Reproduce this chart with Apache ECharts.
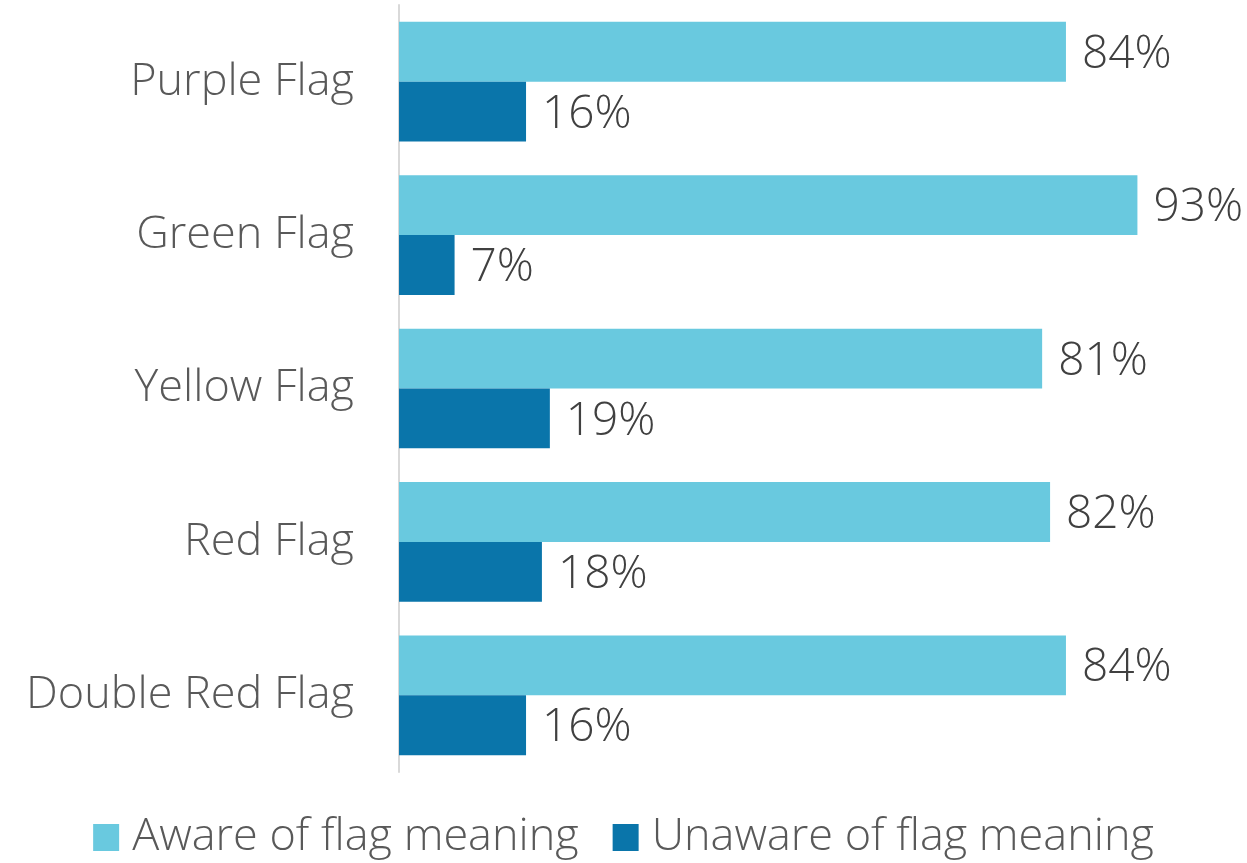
<!DOCTYPE html>
<html><head><meta charset="utf-8">
<script src="https://cdn.jsdelivr.net/npm/echarts@6/dist/echarts.min.js"></script>
<style>html,body{margin:0;padding:0;background:#fff}#c{width:1247px;height:863px}</style>
</head><body><div id="c"></div>
<script>
const categories = ["Purple Flag", "Green Flag", "Yellow Flag", "Red Flag", "Double Red Flag"];
const awareValues = [84, 93, 81, 82, 84];
const unawareValues = [16, 7, 19, 18, 16];
const seriesNames = ["Aware of flag meaning", "Unaware of flag meaning"];

const FONT = "'Open Sans'";
const chart = echarts.init(document.getElementById('c'));
const lbl = {show: true, position: 'right', distance: 16, offset: [0, 3], formatter: '{c}%', color: '#404040', fontSize: 46, fontWeight: 300, fontFamily: FONT};
chart.setOption({
  animation: false,
  grid: {left: 399, top: 5, width: 794, height: 767, containLabel: false},
  legend: {
    bottom: -2, left: 'center', icon: 'rect', itemWidth: 26, itemHeight: 27, itemGap: 34,
    textStyle: {color: '#595959', fontSize: 45, fontWeight: 300, fontFamily: FONT, padding: [0, 0, 0, 8]},
    data: seriesNames
  },
  xAxis: {type: 'value', min: 0, max: 100, show: false},
  yAxis: {
    type: 'category', inverse: true, data: categories,
    axisLine: {show: true, lineStyle: {color: '#D9D9D9', width: 2}},
    axisTick: {show: false},
    axisLabel: {color: '#595959', fontSize: 45, fontWeight: 300, fontFamily: FONT, margin: 45, padding: [7, 0, 0, 0]}
  },
  series: [
    {name: seriesNames[0], type: 'bar', data: awareValues, barGap: '0%', barCategoryGap: '22%',
     itemStyle: {color: '#69C9DF'}, label: lbl},
    {name: seriesNames[1], type: 'bar', data: unawareValues, barGap: '0%', barCategoryGap: '22%',
     itemStyle: {color: '#0A75AA'}, label: lbl}
  ]
});
</script></body></html>
